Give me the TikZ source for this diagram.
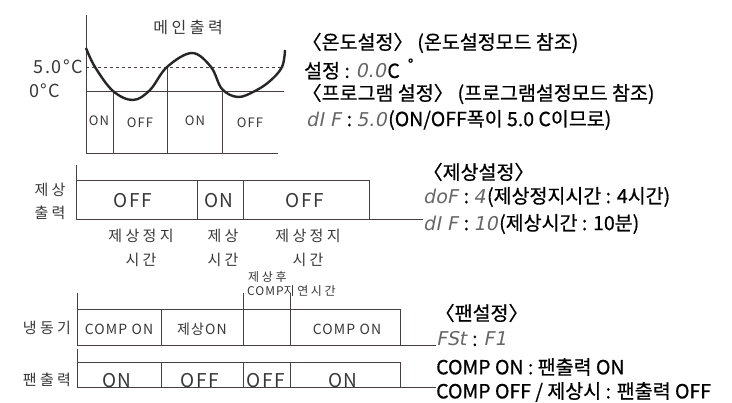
\documentclass[tikz,border=0pt]{standalone}
\usepackage{fontspec}
\setmainfont{Noto Sans CJK KR}
\newfontfamily\notefont[FakeBold=0.6]{Noto Sans CJK KR}
\newfontfamily\chartfont[LetterSpace=8]{Noto Sans CJK KR}
\newfontfamily\hangulfont[LetterSpace=22]{Noto Sans CJK KR}
\newfontfamily\segfont[FakeSlant=0.2]{DejaVu Sans}
\usetikzlibrary{positioning}

\definecolor{chartline}{RGB}{72,64,64}
\definecolor{chartink}{RGB}{55,55,55}

\newcommand{\seg}[1]{{\segfont\fontsize{19}{19}\selectfont\color{black!60}#1\kern1.5pt}}

\tikzset{
  chart/.style = {draw=chartline, line width=0.9pt},
  wave/.style = {draw=black!85, line width=2.4pt},
  cell/.style = {inner sep=0pt, text=chartink, font=\chartfont\fontsize{#1}{#1}\selectfont},
  cell/.default = 15,
  hlabel/.style = {inner sep=0pt, text=chartink, font=\hangulfont\fontsize{#1}{#1}\selectfont},
  hlabel/.default = 15,
  note/.style = {anchor=west, inner sep=0pt, font=\notefont\fontsize{19.5}{19.5}\selectfont},
}

\begin{document}
\begin{tikzpicture}[x=1pt, y=-1pt]
  \useasboundingbox (0,0) rectangle (732,403);

  % main output
  \node[hlabel=16] (main) at (188,27) {메인출력};
  \node[cell=18, anchor=east] (five) at (83,67) {5.0°C};
  \node[cell=18, anchor=west] (zero) at (29,91) {0°C};

  \draw[chart] (86,15) -- (86,153) -- (278,153);
  \draw[chart] (86,91) -- (284,91);
  \draw[chart, dashed] (86,67) -- (284,67);
  \foreach \x in {113,222}
    \draw[chart] (\x,91) -- (\x,153);
  \draw[chart] (167,67) -- (167,153);
  \draw[wave] plot[smooth, tension=0.6] coordinates {(86,48) (95,67) (113,91) (133,100)
    (150,90) (167,67) (192,53) (211,67) (222,89) (238,97) (255,91) (270,81) (282,67) (285,50)};

  \node[cell=13] (m1) at (99,121) {ON};
  \node[cell=13] (m2) at (140,123) {OFF};
  \node[cell=13] (m3) at (195,121) {ON};
  \node[cell=13] (m4) at (250,123) {OFF};

  \node[note] (tset) at (302,43) {〈온도설정〉 (온도설정모드 참조)};
  \node[note] (tval) at (304,69) {설정 : \seg{0.0}C\hspace{8pt}\raisebox{8pt}{\fontsize{15}{15}\selectfont °}};
  \node[note] (pset) at (302,94) {〈프로그램 설정〉 (프로그램설정모드 참조)};
  \node[note] (pdif) at (306,120) {\seg{dI F} : \seg{5.0}(ON/OFF폭이 5.0 C이므로)};

  % defrost output
  \node[note] (dset) at (423,172) {〈제상설정〉};
  \node[note] (dof) at (423,197) {\seg{doF} : \seg{4}(제상정지시간 : 4시간)};
  \node[note] (dif) at (423,224) {\seg{dI F} : \seg{10}(제상시간 : 10분)};

  \coordinate (d0) at (76,165);
  \coordinate (d1) at (76,219);
  \draw[chart] (d0) -- (d1) -- (dif.west |- d1);
  \draw[chart] (76,180) -| (369,219);
  \foreach \x in {197,243}
    \draw[chart] (\x,180) -- (\x,219);

  \node[hlabel=15] (dl1) at (50,190) {제상};
  \node[hlabel=15] (dl2) at (50,213) {출력};
  \node[cell=19] (d1off) at (133,201) {OFF};
  \node[cell=19] (d1on) at (219,201) {ON};
  \node[cell=19] (d2off) at (305,201) {OFF};

  \node[hlabel=15] (s1) at (141,236) {제상정지};
  \node[hlabel=15] (s1b) at (141,260) {시간};
  \node[hlabel=15] (s2) at (223,236) {제상};
  \node[hlabel=15] (s2b) at (223,260) {시간};
  \node[hlabel=15] (s3) at (308,236) {제상정지};
  \node[hlabel=15] (s3b) at (308,260) {시간};
  \node[hlabel=12, anchor=west] (dly1) at (248,277) {제상후};
  \node[cell=12, anchor=west] (dly2) at (247,291) {COMP\hangulfont 지연시간};

  % compressor
  \node[note] (fset) at (435,313) {〈팬설정〉};
  \node[note] (fst) at (436,339) {\seg{FSt} : \seg{F1}};

  \coordinate (c0) at (77,293);
  \coordinate (c1) at (77,345);
  \draw[chart] (c0) -- (c1) -- (fst.west |- c1);
  \draw[chart] (77,309) -| (400,345);
  \draw[chart] (161,309) -- (161,345);
  \foreach \x in {243,290}
    \draw[chart] (\x,293) -- (\x,345);

  \node[hlabel=15] (cl) at (47,328) {냉동기};
  \node[cell=14] (c1on) at (119,329) {COMP ON};
  \node[cell=14] (cdef) at (202,329) {제상ON};
  \node[cell=14] (c2on) at (347,329) {COMP ON};

  % fan output
  \node[note] (fon) at (436,367) {COMP ON : 팬출력 ON};
  \node[note] (foff) at (436,392) {COMP OFF / 제상시 : 팬출력 OFF};

  \coordinate (f0) at (77,349);
  \coordinate (f1) at (77,387);
  \draw[chart] (f0) -- (f1) -- (foff.west |- f1);
  \draw[chart] (77,362) -| (400,387);
  \foreach \x in {161,243,290}
    \draw[chart] (\x,362) -- (\x,387);

  \node[hlabel=15] (fl) at (47,380) {팬출력};
  \node[cell=19] (f1on) at (117,381) {ON};
  \node[cell=19] (f1off) at (200,381) {OFF};
  \node[cell=19] (f2off) at (266,381) {OFF};
  \node[cell=19] (f2on) at (343,381) {ON};
\end{tikzpicture}
\end{document}
